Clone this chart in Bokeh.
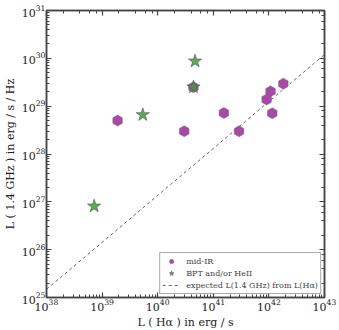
import numpy as np
from bokeh.plotting import figure
from bokeh.models import LogAxis, LogTicker, Legend, LegendItem, Range1d, CustomJSTickFormatter
from bokeh.embed import file_html
from bokeh.resources import INLINE

# mid-IR selected sources (hexagons)
mir_ha = [1.9e39, 3.0e40, 4.4e40, 1.55e41, 2.9e41, 9.1e41, 1.07e42, 1.15e42, 1.82e42]
mir_radio = [5.0e28, 3.0e28, 2.5e29, 7.2e28, 3.0e28, 1.38e29, 2.04e29, 7.1e28, 2.95e29]
# BPT and/or HeII selected sources (stars)
bpt_ha = [7.2e38, 5.4e39, 4.7e40, 4.4e40]
bpt_radio = [8.1e26, 6.6e28, 8.7e29, 2.5e29]
# expected relation endpoints
exp_ha = [1e38, 1e43]
exp_radio = [1.48e25, 1.2e30]

FONT = "DejaVu Serif"
AX = "#444444"

p = figure(x_axis_type="log", y_axis_type="log",
           x_range=Range1d(1e38, 1e43), y_range=Range1d(1e25, 1e31),
           output_backend="svg", toolbar_location=None,
           min_border_left=44, min_border_right=17, min_border_top=10, min_border_bottom=33)
p.frame_width = 278
p.frame_height = 287
p.xgrid.visible = False
p.ygrid.visible = False
p.outline_line_color = AX
p.outline_line_width = 1.5

def style(ax, labels=True):
    ax.axis_line_color = AX
    ax.axis_line_width = 1.5
    ax.major_tick_in = 5
    ax.major_tick_out = 0
    ax.minor_tick_in = 3
    ax.minor_tick_out = 0
    ax.major_tick_line_color = AX
    ax.minor_tick_line_color = AX
    ax.major_tick_line_width = 1.2
    ax.minor_tick_line_width = 1
    ax.major_label_text_font = FONT
    ax.major_label_text_color = "#222222"
    ax.major_label_text_font_size = "11px" if labels else "1px"
    ax.major_label_standoff = 1 if labels else 0
    ax.axis_label_text_font = FONT
    ax.axis_label_text_font_style = "normal"
    ax.axis_label_text_font_size = "11px"
    ax.axis_label_text_color = "#222222"
    ax.axis_label_standoff = 2
    if not labels:
        ax.formatter = CustomJSTickFormatter(code="return '';")

style(p.xaxis[0])
style(p.yaxis[0])
p.xaxis.axis_label = "L ( Hα ) in erg / s"
p.yaxis.axis_label = "L ( 1.4 GHz ) in erg / s / Hz"

top = LogAxis(ticker=LogTicker())
style(top, labels=False)
p.add_layout(top, "above")
right = LogAxis(ticker=LogTicker())
style(right, labels=False)
p.add_layout(right, "right")

r_line = p.line(exp_ha, exp_radio, line_color="#666666", line_dash="3 3", line_width=1)
r_hex = p.scatter(mir_ha, mir_radio, marker="hex", size=11, angle=np.pi / 6,
                  fill_color="#a040a0", fill_alpha=0.95, line_color="#8a5a8a", line_width=0.5)
r_star = p.scatter(bpt_ha, bpt_radio, marker="star", size=14, fill_color="#3f9a3f",
                   fill_alpha=0.85, line_color="#555555", line_width=0.6)

legend = Legend(items=[LegendItem(label="mid-IR", renderers=[r_hex]),
                       LegendItem(label="BPT and/or HeII", renderers=[r_star]),
                       LegendItem(label="expected L(1.4 GHz) from L(Hα)", renderers=[r_line])],
                location="bottom_right")
legend.label_text_font = FONT
legend.label_text_font_size = "8px"
legend.label_height = 11
legend.glyph_height = 12
legend.glyph_width = 18
legend.spacing = 0
legend.padding = 2
legend.margin = 3
legend.border_line_color = "#555555"
legend.border_line_width = 1
legend.label_standoff = 6
p.add_layout(legend)

open("out.html", "w").write(file_html(p, INLINE))
